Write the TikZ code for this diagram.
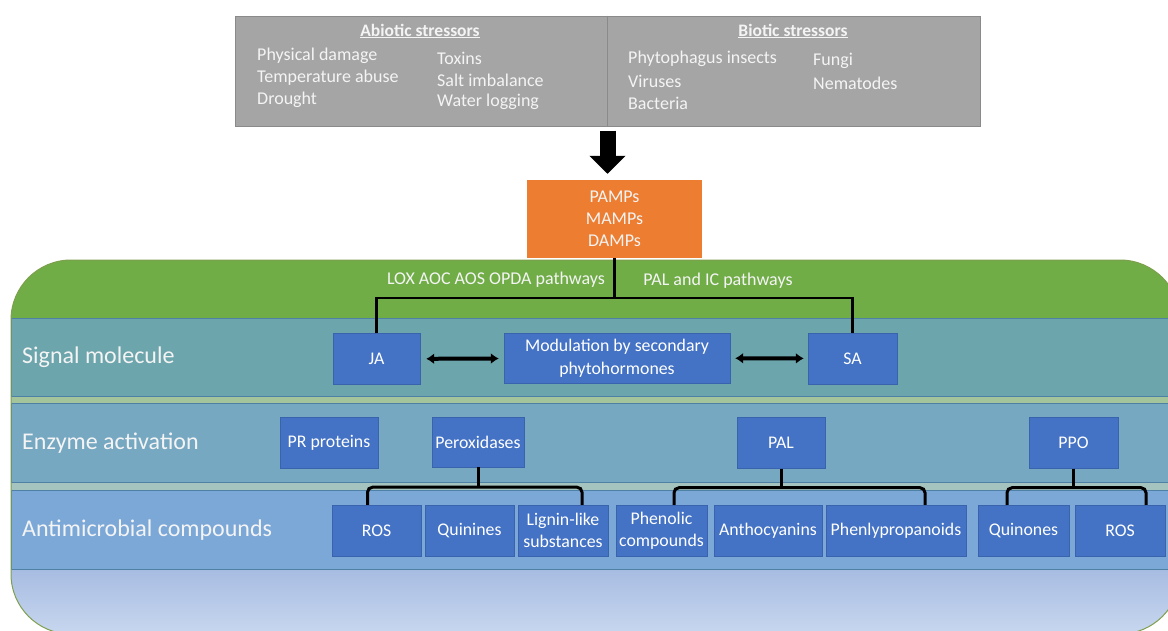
\documentclass[tikz,border=0pt]{standalone}
\usepackage{fontspec}
\setmainfont{Carlito}
\usetikzlibrary{arrows.meta,calc}

\definecolor{stressgray}{HTML}{A5A5A5}
\definecolor{grayedge}{HTML}{8A8A8A}
\definecolor{pampor}{HTML}{ED7D31}
\definecolor{leafgreen}{HTML}{70AD47}
\definecolor{rimgreen}{HTML}{7E9F4E}
\definecolor{sigteal}{HTML}{6CA5AC}
\definecolor{enzblue}{HTML}{76A8C2}
\definecolor{antiblue}{HTML}{7CA8D8}
\definecolor{stripeA}{HTML}{A4C59B}
\definecolor{stripeB}{HTML}{A6C4BF}
\definecolor{lowtop}{HTML}{A7BCE2}
\definecolor{lowbot}{HTML}{C8D7EF}
\definecolor{bandedge}{HTML}{4F80A6}
\definecolor{boxblue}{HTML}{4472C4}
\definecolor{boxedge}{HTML}{3A63AD}
\definecolor{softwhite}{HTML}{F4F4F4}

\begin{document}
\begin{tikzpicture}
      [x = 1pt, y = -1pt,
      box/.style = {
         draw = boxedge,
         fill = boxblue,
         text = white,
         align = center,
         inner sep = 1pt,
         minimum height = 51pt,
         font = \fontsize{17.8}{22.5}\selectfont
      },
      band/.style = {draw = bandedge, line width = 1pt},
      lbl/.style = {anchor = west, inner sep = 0pt, text = softwhite,
         font = \fontsize{24}{28}\selectfont},
      txt/.style = {text = softwhite, font = \fontsize{18}{22}\selectfont},
      link/.style = {line width = 2.5pt},
      bracket/.style = {line width = 3pt, rounded corners = 5pt},
      twoway/.style = {line width = 4pt,
         {Latex[length=8pt,width=11pt]}-{Latex[length=8pt,width=11pt]}}]

      \useasboundingbox (0, 0) rectangle (1168, 630);

      % stressors
      \node[draw = grayedge, fill = stressgray, line width = 1pt,
         minimum width = 745pt, minimum height = 110pt, inner sep = 0pt]
         (stress) at (607.5, 71) {};
      \draw[grayedge, line width = 1pt] (stress.north) -- (stress.south);

      \node[txt, font = \bfseries\fontsize{17.5}{22}\selectfont] (abio) at (420, 31) {\underline{Abiotic stressors}};
      \node[txt, font = \bfseries\fontsize{17.5}{22}\selectfont] (bio) at (793, 31) {\underline{Biotic stressors}};

      \foreach \t [count = \i from 0] in {Physical damage, Temperature abuse, Drought}
         \node[txt, anchor = west, inner sep = 0pt] (abA\i) at (257, 56 + 22*\i) {\t};
      \foreach \t [count = \i from 0] in {Toxins, Salt imbalance, Water logging}
         \node[txt, anchor = west, inner sep = 0pt] (abB\i) at (437, 58 + 22*\i) {\t};
      \foreach \t [count = \i from 0] in {Phytophagus insects, Viruses, Bacteria}
         \node[txt, anchor = west, inner sep = 0pt] (biA\i) at (628, 59 + 22*\i) {\t};
      \foreach \t [count = \i from 0] in {Fungi, Nematodes}
         \node[txt, anchor = west, inner sep = 0pt] (biB\i) at (813, 61 + 22*\i) {\t};

      \node[txt, fill = pampor, align = center, minimum width = 175pt,
         minimum height = 78pt] (pamps) at (614.5, 219) {PAMPs\\MAMPs\\DAMPs};

      \draw[line width = 16pt, -{Triangle[length=18pt,width=35pt]},
         shorten <= 4pt, shorten >= 6pt] (stress.south) -- (stress.south |- pamps.north);

      % layered background
      \begin{scope}
         \clip[rounded corners = 60pt] (11, 260) rectangle (1180, 634);
         \fill[leafgreen] (0, 255) rectangle (1180, 318);
         \fill[stripeA] (0, 396) rectangle (1180, 403);
         \fill[stripeB] (0, 482) rectangle (1180, 490);
         \shade[top color = lowtop, bottom color = lowbot] (0, 569) rectangle (1180, 634);
         \draw[band, fill = sigteal] (11, 318) rectangle (1180, 396);
         \draw[band, fill = enzblue] (11, 403) rectangle (1180, 482);
         \draw[band, fill = antiblue] (11, 490) rectangle (1180, 569);
      \end{scope}
      \draw[rimgreen, line width = 1pt, rounded corners = 60pt] (11, 260) rectangle (1180, 634);

      \node[lbl] (sig) at (22, 357) {Signal molecule};
      \node[lbl] (enz) at (22, 443) {Enzyme activation};
      \node[lbl] (anti) at (22, 530) {Antimicrobial compounds};

      \node[txt] (lox) at (496, 280) {LOX AOC AOS OPDA pathways};
      \node[txt] (palic) at (718, 281) {PAL and IC pathways};

      % signal molecules
      \node[box, minimum width = 87pt] (ja) at (376.5, 359) {JA};
      \node[box, minimum width = 226pt, minimum height = 50pt] (mod) at (617, 358)
         {Modulation by secondary\\phytohormones};
      \node[box, minimum width = 89pt] (sa) at (852.5, 358.5) {SA};

      \coordinate (fork) at ($(pamps.south) + (0, 40)$);
      \draw[link] (pamps.south) -- (fork);
      \draw[link] (ja.north) |- (fork) -| (sa.north);

      \draw[twoway, shorten <= 6pt, shorten >= 5pt] (ja) -- (mod);
      \draw[twoway, shorten <= 5pt, shorten >= 4pt] (mod) -- (sa);

      % enzymes
      \node[box, minimum width = 98pt] (pr) at (329, 443) {PR proteins};
      \node[box, minimum width = 92pt, minimum height = 50pt] (perox) at (478, 442) {Peroxidases};
      \node[box, minimum width = 88pt] (pal) at (781, 443) {PAL};
      \node[box, minimum width = 89pt] (ppo) at (1073.5, 443) {PPO};

      % antimicrobial compounds
      \node[box, minimum width = 89pt] (rosA) at (376.5, 530.5) {ROS};
      \node[box, minimum width = 89pt] (quin) at (469.5, 530.5) {Quinines};
      \node[box, minimum width = 90pt] (lig) at (563, 530.5) {Lignin-like\\substances};
      \node[box, minimum width = 91pt] (phen) at (661.5, 530.5) {Phenolic\\compounds};
      \node[box, minimum width = 108pt] (antho) at (768, 530.5) {Anthocyanins};
      \node[box, minimum width = 140pt] (phenly) at (896, 530.5) {Phenlypropanoids};
      \node[box, minimum width = 91pt] (quinon) at (1023.5, 530.5) {Quinones};
      \node[box, minimum width = 90pt] (rosB) at (1120, 530.5) {ROS};

      \coordinate (pxfork) at ($(perox.south) + (0, 20)$);
      \draw[bracket] (perox.south) -- (pxfork);
      \draw[bracket] ([xshift = -9pt]rosA.north) |- (pxfork) -| ([xshift = 19pt]lig.north);

      \coordinate (palfork) at ($(pal.south) + (0, 19)$);
      \draw[bracket] (pal.south) -- (palfork);
      \draw[bracket] ([xshift = 12.5pt]phen.north) |- (palfork) -| ([xshift = 29pt]phenly.north);

      \coordinate (ppofork) at ($(ppo.south) + (0, 19)$);
      \draw[bracket] (ppo.south) -- (ppofork);
      \draw[bracket] ([xshift = -16.5pt]quinon.north) |- (ppofork) -| ([xshift = 26pt]rosB.north);

   \end{tikzpicture}
\end{document}
